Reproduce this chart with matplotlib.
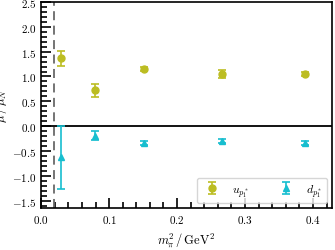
import numpy as np
import matplotlib
matplotlib.use("Agg")
import matplotlib.pyplot as plt

plt.rcParams['font.family'] = ['cmr10']
plt.rcParams['mathtext.fontset'] = 'cm'
plt.rcParams['axes.formatter.use_mathtext'] = True
plt.rcParams['font.size'] = 8

# pion mass squared (GeV^2)
m_pi2 = [0.029, 0.079, 0.152, 0.266, 0.388]
m_pi2_phys = 0.0195

# magnetic moments mu / mu_N
u_val = [1.37, 0.72, 1.15, 1.05, 1.05]
u_err = [0.15, 0.13, 0.04, 0.09, 0.04]
d_val = [-0.63, -0.19, -0.34, -0.30, -0.34]
d_err = [0.63, 0.09, 0.04, 0.04, 0.04]

fig, ax = plt.subplots(figsize=(3.35, 2.51), dpi=100)

ax.axvline(m_pi2_phys, color='dimgray', linestyle=(0, (5, 3)), linewidth=1.3)
ax.axhline(0.0, color='black', linewidth=1.3)

ax.errorbar(m_pi2, u_val, yerr=u_err, fmt='o', color='#bcbd22', markersize=5,
            capsize=3, capthick=1.2, elinewidth=1.2, label=r'$u_{p_1^*}$')
ax.errorbar(m_pi2, d_val, yerr=d_err, fmt='^', color='#17becf', markersize=5,
            capsize=3, capthick=1.2, elinewidth=1.2, label=r'$d_{p_1^*}$')

ax.set_xlim(0.0, 0.4275)
ax.set_ylim(-1.65, 2.5)
ax.set_xticks([0.0, 0.1, 0.2, 0.3, 0.4])
ax.set_yticks([-1.5, -1.0, -0.5, 0.0, 0.5, 1.0, 1.5, 2.0, 2.5])
ax.xaxis.set_minor_locator(matplotlib.ticker.MultipleLocator(0.02))
ax.yaxis.set_minor_locator(matplotlib.ticker.MultipleLocator(0.1))
ax.tick_params(which='both', direction='in', width=1.2)
ax.tick_params(which='major', length=7)
ax.tick_params(which='minor', length=4)
for s in ax.spines.values():
    s.set_linewidth(1.2)

ax.set_xlabel(r'$m_\pi^2\,/\,\mathrm{GeV}^2$', fontsize=9)
ax.set_ylabel(r'$\mu\,/\,\mu_N$', fontsize=9, labelpad=2)

ax.legend(loc='lower right', ncol=2, fontsize=8.5, columnspacing=2.2,
          handletextpad=0.8, borderaxespad=0.4, handlelength=1.8)

fig.subplots_adjust(left=0.123, right=0.99, top=0.988, bottom=0.167)
fig.savefig('out.png', dpi=100)
